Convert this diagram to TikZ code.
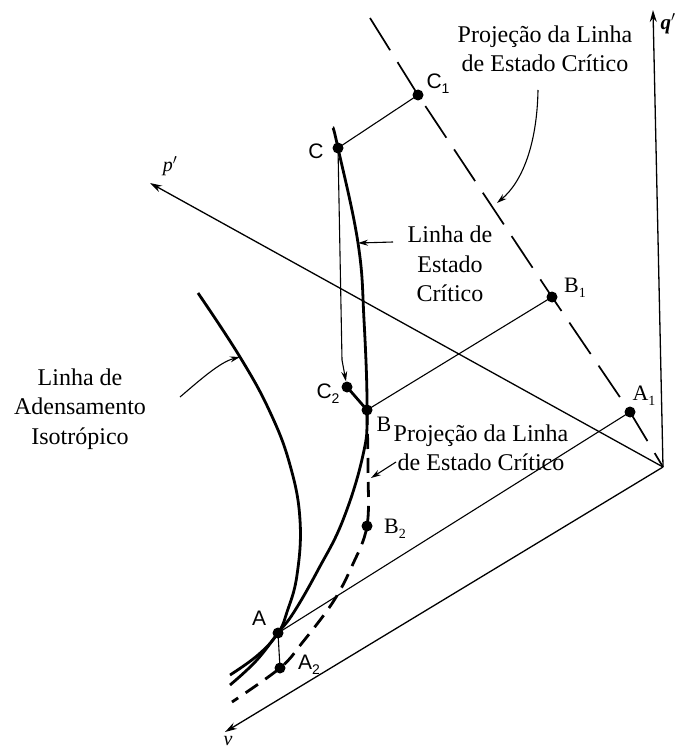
\documentclass[tikz,border=0pt]{standalone}
\usepackage{fontspec}
\setmainfont{Liberation Serif}
\newfontfamily\lsans{Liberation Sans}
\usetikzlibrary{arrows.meta}
\newcommand\mysub[1]{\raisebox{-5pt}{\fontsize{14}{14}\selectfont #1}}
\begin{document}
\begin{tikzpicture}[x=1pt,y=-1pt,
  dot/.style={circle,fill=black,inner sep=0pt,minimum size=11pt},
  thinln/.style={line width=1.1pt},
  thickcurve/.style={line width=2.8pt},
  axisln/.style={line width=1.3pt,-{Stealth[length=12pt,width=7pt]}},
  ptr/.style={line width=1.1pt,-{Stealth[length=10pt,width=6pt]}},
  lab/.style={font=\fontsize{24}{29.5}\selectfont,align=center,inner sep=0pt},
  ptsans/.style={font=\lsans\fontsize{21}{21}\selectfont,inner sep=0pt},
  ptserif/.style={font=\fontsize{22}{22}\selectfont,inner sep=0pt},
  axlab/.style={font=\fontsize{20}{20}\selectfont\itshape,inner sep=0pt},
  cslproj/.style={line width=1.7pt,dash pattern=on 38pt off 14pt},
  cslproj2/.style={line width=2.8pt,dash pattern=on 15pt off 9pt},
]
\useasboundingbox (0,0) rectangle (677,751);

% axes
\coordinate (O) at (663,467);
\coordinate (qtip) at (653,10);
\coordinate (ptip) at (150,183);
\coordinate (vtip) at (225,732);
\draw[axisln] (O) -- (qtip);
\draw[axisln] (O) -- (ptip);
\draw[axisln] (O) -- (vtip);
\node[axlab,font=\fontsize{21}{21}\selectfont\bfseries\itshape] (ql) at (668,24) {q$'$};
\node[axlab] (pl) at (170,166) {p$'$};
\node[axlab] (vl) at (228,741) {v};

% points
\node[dot] (C1) at (418,95) {};
\node[dot] (C) at (338,148) {};
\node[dot] (B1) at (552,297) {};
\node[dot] (A1) at (630,412) {};
\node[dot] (B) at (367,410) {};
\node[dot] (C2) at (347,387) {};
\node[dot] (B2) at (367,526) {};
\node[dot] (A) at (278,633) {};
\node[dot] (A2) at (280,668) {};

% projection of CSL on q'-p' plane
\coordinate (cpt) at (370,18);
\draw[cslproj] (cpt) -- (C1.center) -- (B1.center) -- (A1.center) -- (O);

% thin connectors
\draw[thinln] (C.center) -- (C1.center);
\draw[thinln] (B.center) -- (B1.center);
\draw[thinln] (A.center) -- (A1.center);
\draw[thinln] (A.center) -- (A2.center);
\draw[thinln,-{Stealth[length=10pt,width=6pt]}] (C.center) -- (342,360) -- (C2);
\draw[thickcurve] (C2.center) -- (B.center);

% isotropic consolidation line
\coordinate (n0) at (198,293);
\coordinate (nhit) at (240,357);
\coordinate (nend) at (230,675);
\draw[thickcurve] plot[smooth,tension=0.7] coordinates {(n0) (nhit) (270,412) (290,465) (300,520) (297,575) (287,612) (A) (258,655) (nend)};

% critical state line
\coordinate (s0) at (333,128);
\coordinate (shit) at (358,243);
\coordinate (send) at (230,685);
\draw[thickcurve] plot[smooth,tension=0.7] coordinates {(s0) (C) (shit) (364,320) (B) (363,455) (343,520) (318,570) (294,612) (A) (256,661) (send)};

% projection of CSL on v-p' plane
\coordinate (dend) at (232,702);
\coordinate (dhit) at (371,478);
\draw[cslproj2] plot[smooth,tension=0.6] coordinates {(B) (368,470) (B2) (352,566) (333,602) (302,643) (A2) (dend)};

% point labels
\node[ptsans] (lC1) at (438,84) {C\mysub{1}};
\node[ptsans] (lC) at (316,151) {C};
\node[ptserif] (lB1) at (575,288) {B\mysub{1}};
\node[ptserif] (lA1) at (644,396) {A\mysub{1}};
\node[ptserif] (lB) at (384,424) {B};
\node[ptsans] (lC2) at (328,394) {C\mysub{2}};
\node[ptserif] (lB2) at (395,529) {B\mysub{2}};
\node[ptsans] (lA) at (259,618) {A};
\node[ptsans] (lA2) at (309,665) {A\mysub{2}};

% text labels
\node[lab] (top) at (545,49) {Projeção da Linha\\de Estado Crítico};
\node[lab] (mid) at (450,264) {Linha de\\Estado\\Crítico};
\node[lab] (left) at (80,409) {Linha de\\Adensamento\\Isotrópico};
\node[lab] (low) at (481,448) {Projeção da Linha\\de Estado Crítico};

% pointers
\coordinate (t0) at (538,90);
\coordinate (t1) at (497,203);
\draw[ptr] (t0) .. controls (537,145) and (522,182) .. (t1);
\coordinate (m0) at (393,242);
\draw[ptr] (m0) -- (shit);
\coordinate (l0) at (180,397);
\draw[ptr] (l0) .. controls (200,380) and (220,362) .. (nhit);
\coordinate (w0) at (396,462);
\draw[ptr] (w0) -- (dhit);
\end{tikzpicture}
\end{document}
